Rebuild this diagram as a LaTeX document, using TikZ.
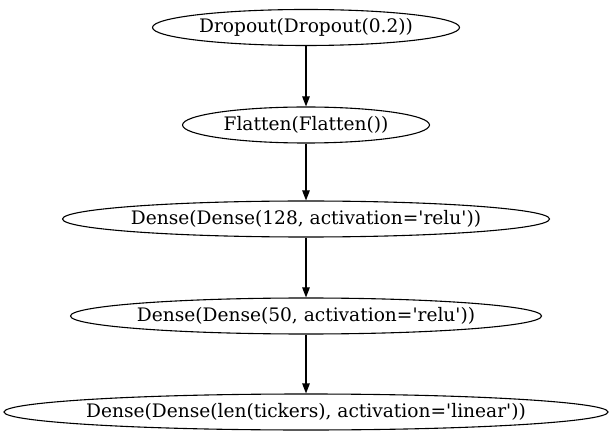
\documentclass[tikz,border=0pt]{standalone}
\usepackage{fontspec}
\setmainfont{DejaVu Serif}
\usepackage{tikz}
\usetikzlibrary{shapes.geometric,arrows.meta}
\tikzset{
  layer/.style={draw, ellipse, line width=1.1pt, inner sep=0pt, minimum height=36bp},
  every label/.style={font=\fontsize{18.6bp}{20bp}\selectfont, inner sep=0pt},
  flow/.style={line width=1.1pt, -{Triangle[length=10bp,width=7.5bp]}}
}
\newcommand{\q}{\textquotesingle}

\begin{document}
\begin{tikzpicture}[x=1bp,y=-1bp]
\useasboundingbox (0,0) rectangle (612,443);
\node[layer, minimum width=307bp, label={center:Dropout(Dropout(0.2))}] (dropout) at (306,27.5) {};
\node[layer, minimum width=247bp, label={center:Flatten(Flatten())}] (flatten) at (306,125) {};
\node[layer, minimum width=487bp, label={center:Dense(Dense(128, activation=\q relu\q))}] (dense1) at (306,219) {};
\node[layer, minimum width=471bp, label={center:Dense(Dense(50, activation=\q relu\q))}] (dense2) at (306,316) {};
\node[layer, minimum width=604bp, label={center:Dense(Dense(len(tickers), activation=\q linear\q))}] (dense3) at (306,412) {};
\draw[flow] (dropout) -- (flatten);
\draw[flow] (flatten) -- (dense1);
\draw[flow] (dense1) -- (dense2);
\draw[flow] (dense2) -- (dense3);
\end{tikzpicture}
\end{document}
